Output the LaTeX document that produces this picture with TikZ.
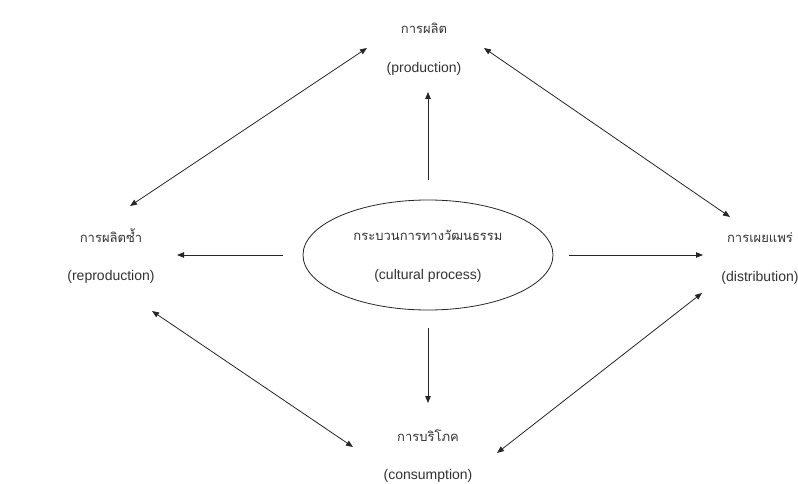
\documentclass[tikz,border=0pt]{standalone}
\usepackage{fontspec}
\setmainfont{Liberation Sans}
\newfontfamily\thaifont[Script=Thai]{Loma}
\usetikzlibrary{arrows.meta,shapes.geometric}
\tikzset{
  th/.style={font=\thaifont\fontsize{13}{15}\selectfont, text=black!80, inner sep=0pt},
  en/.style={font=\fontsize{14}{16}\selectfont, text=black!80, inner sep=0pt},
  conn/.style={line width=0.8pt, draw=black!85, >={Triangle[length=7pt,width=5.5pt]}},
  cproc/.style={ellipse, draw=black!85, line width=0.8pt, minimum width=250pt, minimum height=110pt, inner sep=0pt}
}
\begin{document}
\begin{tikzpicture}[x=1pt,y=-1pt]
\useasboundingbox (0,0) rectangle (798,484);
\fill[white] (0,0) rectangle (798,484);
% centre
\node[cproc] (cp) at (428,255) {};
\node[th] (cpT) at (428,235) {กระบวนการทางวัฒนธรรม};
\node[en] (cpE) at (428,276) {(cultural process)};
% production
\node[th] (prodT) at (424,28) {การผลิต};
\node[en] (prodE) at (424,69) {(production)};
% reproduction
\node[th] (repT) at (111,236) {การผลิตซ้ำ};
\node[en] (repE) at (111,277) {(reproduction)};
% distribution
\node[th] (disT) at (760,238) {การเผยแพร่};
\node[en] (disE) at (760,278) {(distribution)};
% consumption
\node[th] (conT) at (428,436) {การบริโภค};
\node[en] (conE) at (428,476) {(consumption)};
% arrow end points
\coordinate (upEnd) at (428,92);
\coordinate (dnEnd) at (428,403);
\coordinate (lfEnd) at (177,253);
\coordinate (rtEnd) at (703,255);
\coordinate (tlA) at (130,206);
\coordinate (tlB) at (367,48);
\coordinate (trA) at (484,48);
\coordinate (trB) at (730,217);
\coordinate (blA) at (152,311);
\coordinate (blB) at (353,447);
\coordinate (brA) at (497,453);
\coordinate (brB) at (702,293);
% straight arrows from the ellipse
\draw[conn,->,shorten <=20pt] (cp.north) -- (upEnd);
\draw[conn,->,shorten <=18pt] (cp.south) -- (dnEnd);
\draw[conn,->,shorten <=20pt] (cp.west) -- (cp.west -| lfEnd);
\draw[conn,->,shorten <=16pt] (cp.east) -- (cp.east -| rtEnd);
% diagonal double arrows
\draw[conn,<->] (tlA) -- (tlB);
\draw[conn,<->] (trA) -- (trB);
\draw[conn,<->] (blA) -- (blB);
\draw[conn,<->] (brA) -- (brB);
\end{tikzpicture}
\end{document}
